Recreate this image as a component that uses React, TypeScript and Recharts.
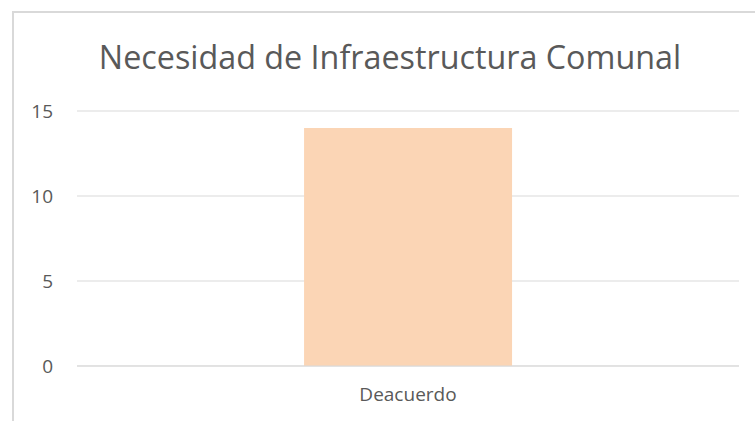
import { BarChart, Bar, XAxis, YAxis, CartesianGrid } from 'recharts'

const categories = ['Deacuerdo']
const values = [14]
const yTicks = [0, 5, 10, 15]
const title = 'Necesidad de Infraestructura Comunal'

const data = categories.map((name, i) => ({ name, value: values[i] }))

const TEXT = '#595959'
const GRID = '#d9d9d9'
const FONT = '"Open Sans", sans-serif'

export default function App() {
  return (
    <div
      style={{
        position: 'absolute',
        left: 0,
        top: 0,
        width: 755,
        height: 421,
        overflow: 'hidden',
        background: '#fff',
        fontFamily: FONT,
      }}
    >
      {/* chart frame, runs off the right and bottom edge */}
      <div
        style={{
          position: 'absolute',
          left: 12,
          top: 11,
          width: 800,
          height: 500,
          border: `2px solid ${GRID}`,
          boxSizing: 'border-box',
        }}
      />
      <div
        style={{
          position: 'absolute',
          left: 0,
          top: 40,
          width: 780,
          textAlign: 'center',
          fontSize: 32.3,
          lineHeight: 1,
          color: TEXT,
          whiteSpace: 'nowrap',
        }}
      >
        {title}
      </div>
      <div style={{ position: 'absolute', left: 0, top: 0 }}>
        <BarChart
          width={755}
          height={421}
          data={data}
          margin={{ top: 111, right: 16, left: 0, bottom: 25 }}
          barCategoryGap="34.3%"
        >
          <CartesianGrid vertical={false} stroke={GRID} strokeWidth={1} />
          <XAxis
            dataKey="name"
            height={30}
            tickLine={false}
            tickSize={0}
            tickMargin={22}
            axisLine={{ stroke: GRID }}
            tick={{ fill: TEXT, fontSize: 19, fontFamily: FONT }}
          />
          <YAxis
            width={77}
            domain={[0, 15]}
            ticks={yTicks}
            tickLine={false}
            axisLine={false}
            tickSize={0}
            tickMargin={24}
            tick={{ fill: TEXT, fontSize: 19, fontFamily: FONT }}
          />
          <Bar dataKey="value" fill="#fbd5b5" isAnimationActive={false} />
        </BarChart>
      </div>
    </div>
  )
}
